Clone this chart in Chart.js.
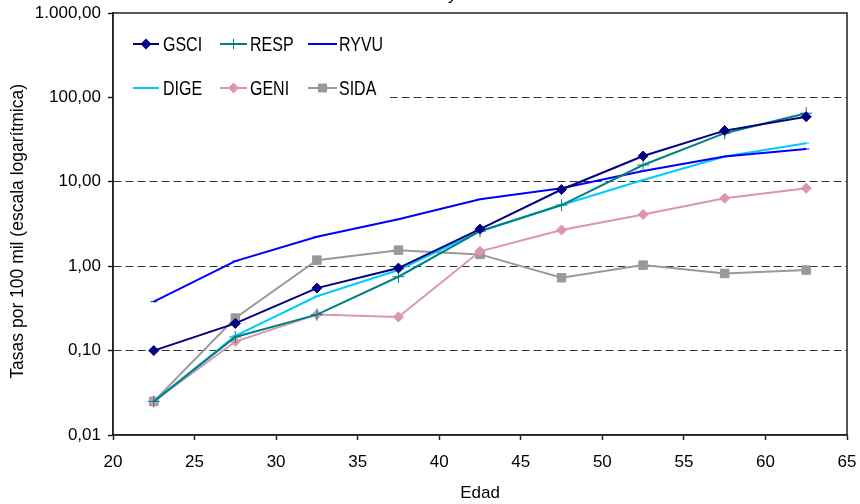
<!DOCTYPE html>
<html>
<head>
<meta charset="utf-8">
<script src="https://cdn.jsdelivr.net/npm/chart.js@4/dist/chart.umd.min.js"></script>
<style>
  html, body { margin: 0; padding: 0; background: #fff; }
  #wrap { width: 860px; height: 504px; }
</style>
</head>
<body>
<div id="wrap"><canvas id="tasasChart"></canvas></div>
<script>
// Edad (punto medio del grupo quinquenal)
const edades = [22.5, 27.5, 32.5, 37.5, 42.5, 47.5, 52.5, 57.5, 62.5];

// Tasas por 100 mil
const gsci = [0.10, 0.21, 0.55, 0.95, 2.75, 8.1, 20.2, 40.4, 59];
const resp = [0.025, 0.145, 0.267, 0.75, 2.6, 5.3, 15.8, 37.7, 65];
const ryvu = [0.38, 1.15, 2.23, 3.6, 6.2, 8.4, 13.4, 19.9, 24.5];
const dige = [0.025, 0.15, 0.44, 0.9, 2.6, 5.3, 10.5, 19.9, 28.7];
const geni = [0.025, 0.128, 0.267, 0.25, 1.5, 2.68, 4.1, 6.4, 8.4];
const sida = [0.025, 0.243, 1.18, 1.55, 1.38, 0.73, 1.03, 0.82, 0.9];

const yTickValues = [0.01, 0.1, 1, 10, 100, 1000];
const yTickLabels = ['0,01', '0,10', '1,00', '10,00', '100,00', '1.000,00'];

const series = [
    { label: 'GSCI', data: gsci, color: '#000080', style: 'rectRot', radius: 5 },
    { label: 'RESP', data: resp, color: '#008080', style: 'cross', radius: 6 },
    { label: 'RYVU', data: ryvu, color: '#0000ff', style: 'line', radius: 3 },
    { label: 'DIGE', data: dige, color: '#00ccff', style: 'line', radius: 3 },
    { label: 'GENI', data: geni, color: '#db95b0', style: 'rectRot', radius: 5 },
    { label: 'SIDA', data: sida, color: '#999999', style: 'rect', radius: 6 }
];

const FONT = "'Liberation Sans', Arial, Helvetica, sans-serif";

// leyenda dentro del area de trazado + marco + resto del titulo
const boxPlugin = {
    id: 'boxLegend',
    beforeDatasetsDraw(chart) {
        const ctx = chart.ctx;
        const a = chart.chartArea;
        ctx.save();
        // fondo blanco de la leyenda
        ctx.fillStyle = '#fff';
        ctx.fillRect(a.left + 1, a.top + 1, 276, 95);
        // marco
        ctx.strokeStyle = '#222';
        ctx.lineWidth = 1.5;
        ctx.strokeRect(a.left, a.top, a.right - a.left, a.bottom - a.top);

        const cols = [[133, 159, 163], [220, 247, 250], [308, 337, 339]];
        const rows = [44, 88];
        ctx.font = '20px ' + FONT;
        ctx.textBaseline = 'middle';
        series.forEach((s, i) => {
            const c = cols[i % 3];
            const y = rows[Math.floor(i / 3)];
            ctx.strokeStyle = s.color;
            ctx.fillStyle = s.color;
            ctx.lineWidth = 2;
            ctx.beginPath();
            ctx.moveTo(c[0], y);
            ctx.lineTo(c[1], y);
            ctx.stroke();
            ctx.lineWidth = s.style === 'cross' ? 1 : 2;
            Chart.helpers.drawPoint(ctx, { pointStyle: s.style, radius: s.radius - 1, borderWidth: ctx.lineWidth, rotation: 0 }, (c[0] + c[1]) / 2, y);
            // texto estrecho
            ctx.save();
            ctx.translate(c[2], y + 1);
            ctx.scale(0.8, 1);
            ctx.fillStyle = '#000';
            ctx.fillText(s.label, 0, 0);
            ctx.restore();
        });

        // titulo recortado en el borde superior
        ctx.font = '17px ' + FONT;
        ctx.textBaseline = 'alphabetic';
        ctx.fillStyle = '#000';
        ctx.fillText('y', 448, 0);
        ctx.restore();
    }
};

const ctx = document.getElementById('tasasChart').getContext('2d');
const chart = new Chart(ctx, {
    type: 'line',
    data: {
        datasets: series.map(s => ({
            label: s.label,
            data: s.data.map((v, i) => ({ x: edades[i], y: v })),
            borderColor: s.color,
            backgroundColor: s.color,
            borderWidth: 2,
            pointStyle: s.style,
            pointRadius: s.radius,
            pointBorderWidth: 1,
            pointHoverRadius: s.radius,
            tension: 0
        }))
    },
    options: {
        responsive: true,
        maintainAspectRatio: false,
        animation: false,
        layout: { padding: { top: 13, right: 13, left: 0, bottom: 0 } },
        plugins: {
            legend: { display: false },
            tooltip: { enabled: false }
        },
        scales: {
            x: {
                type: 'linear',
                min: 20,
                max: 65,
                afterFit: scale => {
                    scale.height = 69;
                    scale.paddingLeft = 0;
                    scale.paddingRight = 0;
                },
                ticks: {
                    stepSize: 5,
                    padding: 12,
                    color: '#000',
                    font: { family: FONT, size: 17 }
                },
                grid: {
                    drawOnChartArea: false,
                    tickLength: 5,
                    tickColor: '#222',
                    tickWidth: 1.5
                },
                border: { color: '#222', width: 1.5 },
                title: {
                    display: true,
                    text: 'Edad',
                    color: '#000',
                    font: { family: FONT, size: 17 },
                    padding: { top: 0, bottom: 0 }
                }
            },
            y: {
                type: 'logarithmic',
                min: 0.01,
                max: 1000,
                afterFit: scale => {
                    scale.width = 113;
                    scale.paddingTop = 0;
                    scale.paddingBottom = 0;
                },
                afterBuildTicks: scale => {
                    scale.ticks = yTickValues.map(v => ({ value: v }));
                },
                ticks: {
                    padding: 7,
                    color: '#000',
                    font: { family: FONT, size: 17 },
                    callback: (value) => yTickLabels[yTickValues.indexOf(value)]
                },
                grid: {
                    color: c => (c.tick && (c.tick.value === 100 || c.tick.value === 10 || c.tick.value === 1 || c.tick.value === 0.1)) ? '#333' : 'rgba(0,0,0,0)',
                    lineWidth: 1,
                    tickLength: 5,
                    tickColor: '#222',
                    tickWidth: 1.5
                },
                border: { color: '#222', width: 1.5, dash: [8, 4] },
                title: {
                    display: true,
                    // espacios finales: el rotulo queda algo por debajo del centro, como en el original
                    text: 'Tasas por 100 mil (escala logarítmica)   ',
                    color: '#000',
                    font: { family: FONT, size: 17.5 },
                    padding: { top: 8, bottom: 0 }
                }
            }
        }
    },
    plugins: [boxPlugin]
});
</script>
</body>
</html>
